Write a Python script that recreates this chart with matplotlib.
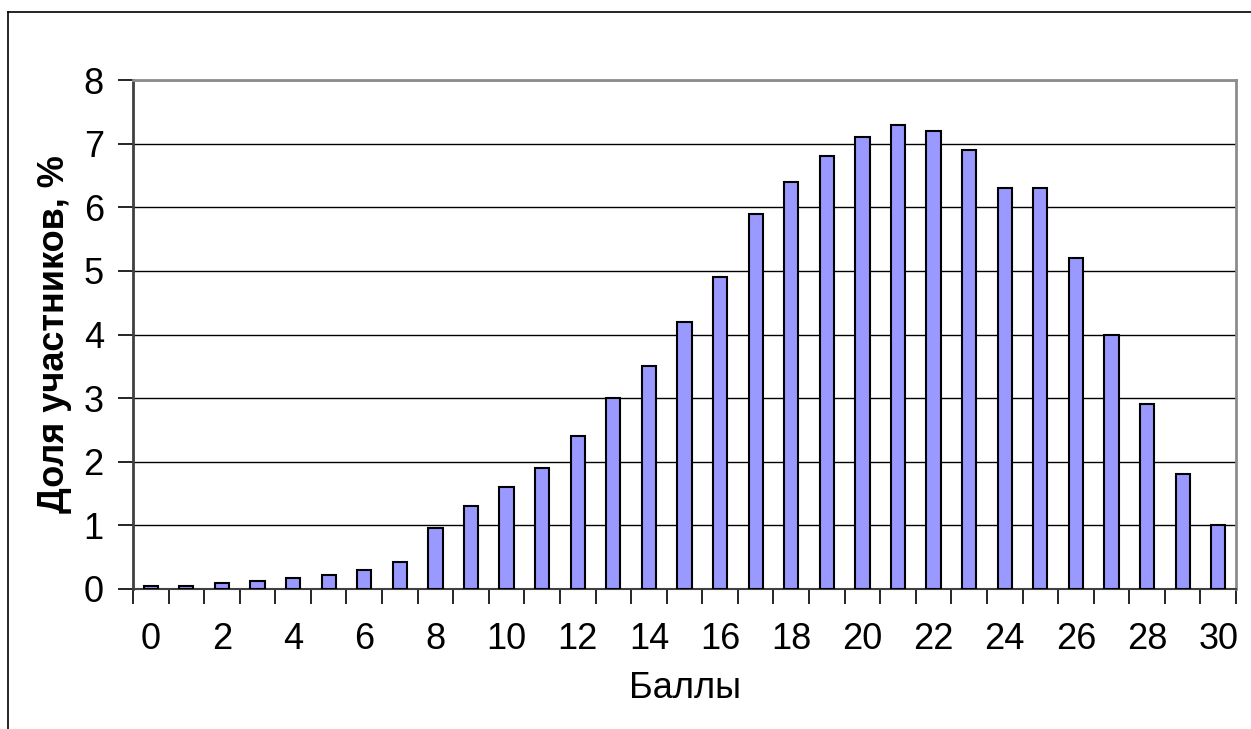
"""Распределение участников по баллам (столбчатая диаграмма в стиле Excel)."""
import matplotlib
matplotlib.use("Agg")
import matplotlib.pyplot as plt
from matplotlib.lines import Line2D

plt.rcParams["font.family"] = ["Liberation Sans", "DejaVu Sans"]

# данные
SCORES = list(range(0, 31))
SHARES = [
    0.05, 0.05, 0.1, 0.12, 0.18, 0.22, 0.3, 0.42, 0.96, 1.3,
    1.6, 1.9, 2.4, 3.0, 3.5, 4.2, 4.9, 5.9, 6.4, 6.8,
    7.1, 7.3, 7.2, 6.9, 6.3, 6.3, 5.2, 4.0, 2.9, 1.8,
    1.0,
]
Y_TICKS = list(range(0, 9))
X_LABEL_TICKS = list(range(0, 31, 2))

FS = 26

W, H = 1251, 729
fig = plt.figure(figsize=(W / 100, H / 100), dpi=100)
ax = fig.add_axes([133 / W, 1 - 589 / H, (1236 - 133) / W, (589 - 80) / H])

ax.bar(SCORES, SHARES, width=0.4, color="#9999FF", edgecolor="black",
       linewidth=1.5, zorder=3)

ax.set_xlim(-0.5, 30.5)
ax.set_ylim(0, 8)
ax.set_yticks(Y_TICKS)
ax.yaxis.grid(True, color="black", linewidth=1.0, zorder=0)

# подписи каждые 2 балла, засечки между столбцами
ax.set_xticks(X_LABEL_TICKS)
ax.set_xticks([s - 0.5 for s in SCORES] + [30.5], minor=True)
ax.tick_params(axis="x", which="major", length=0, pad=24, labelsize=FS)
ax.tick_params(axis="x", which="minor", length=11, width=1.2, direction="out")
ax.tick_params(axis="y", length=11, width=1.2, direction="out", pad=10, labelsize=FS)

for side in ("top", "right"):
    ax.spines[side].set_color("#8c8c8c")
    ax.spines[side].set_linewidth(2)
ax.spines["left"].set_color("#404040")
ax.spines["left"].set_linewidth(2)
ax.spines["bottom"].set_color("#404040")
ax.spines["bottom"].set_linewidth(1.5)

ax.set_xlabel("Баллы", fontsize=FS, labelpad=10)
ax.set_ylabel("Доля участников, %", fontsize=FS, fontweight="bold", labelpad=8)

# рамка области диаграммы (видны верх и левый край)
fig.add_artist(Line2D([8 / W, 1], [1 - 12 / H, 1 - 12 / H], color="black",
                      linewidth=1.2, transform=fig.transFigure))
fig.add_artist(Line2D([8 / W, 8 / W], [0, 1 - 12 / H], color="black",
                      linewidth=1.2, transform=fig.transFigure))

fig.savefig("out.png", dpi=100)
